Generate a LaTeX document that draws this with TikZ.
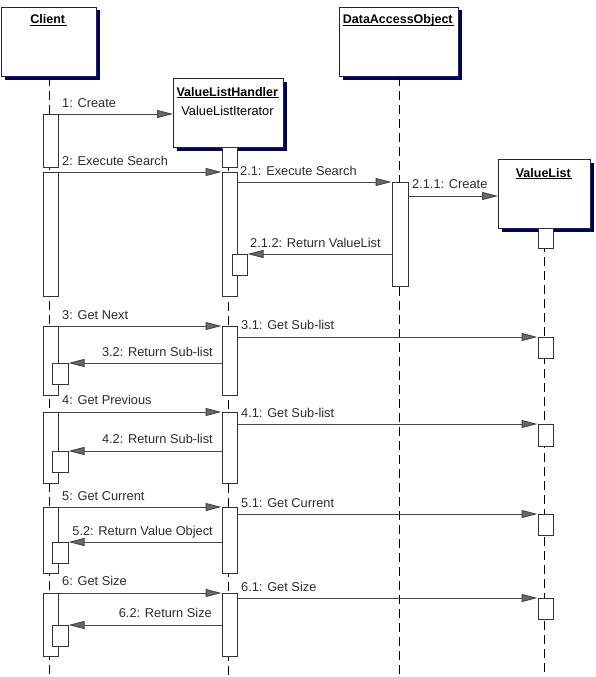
\documentclass[tikz,border=0pt]{standalone}
\usepackage{fontspec}
\setmainfont{Liberation Sans}
\usetikzlibrary{arrows.meta,shadows}
\definecolor{shadowblue}{RGB}{0,0,100}
\definecolor{linegray}{RGB}{70,70,70}
\definecolor{tipgray}{RGB}{105,105,105}
\definecolor{txtgray}{RGB}{45,45,45}
\newcommand{\ultitle}[1]{\underline{\smash{#1}\kern1.5pt}}
\begin{document}
\begin{tikzpicture}[x=1pt,y=-1pt,
  every node/.style={font=\fontsize{12.8}{15}\selectfont},
  header/.style={draw=black!85, fill=white, line width=1pt, inner sep=0pt, anchor=north west,
    drop shadow={shadow xshift=3pt, shadow yshift=-3pt, fill=shadowblue, opacity=1}},
  act/.style={draw=black!80, fill=white, line width=1pt, inner sep=0pt, minimum width=15pt, anchor=north},
  selfbox/.style={act, minimum width=16pt, minimum height=21pt},
  title/.style={font=\fontsize{12.5}{15}\selectfont\bfseries, text=black, inner sep=0pt, anchor=base},
  lbl/.style={text=txtgray, inner sep=0pt, anchor=base west},
  lblr/.style={text=txtgray, inner sep=0pt, anchor=base east},
  life/.style={draw=black, line width=1pt, dash pattern=on 9pt off 5pt},
  msg/.style={draw=linegray, line width=1pt, -{Triangle[length=16pt,width=8pt,fill=tipgray]}},
]
\fill[white] (0,0) rectangle (595,677);
\useasboundingbox (0,0) rectangle (595,677);
\coordinate (bottom) at (0,677);

% headers
\node[header, minimum width=95pt, minimum height=69pt] (client) at (1,7) {};
\node[header, minimum width=110pt, minimum height=69pt] (vlh) at (173,78) {};
\node[header, minimum width=119pt, minimum height=69pt] (dao) at (339,7) {};
\node[header, minimum width=92pt, minimum height=69pt] (vl) at (498,159) {};

\node[title] (tclient) at (48.5,24) {\ultitle{Client}};
\node[title] (tvlh) at (228,96) {\ultitle{ValueListHandler}};
\node[text=black, inner sep=0pt, anchor=base] (tvli) at (227.5,115) {ValueListIterator};
\node[title] (tdao) at (398.5,24) {\ultitle{DataAccessObject}};
\node[title] (tvl) at (544,177) {\ultitle{ValueList}};

% lifelines
\draw[life] (client.south) -- (client.south |- bottom);
\draw[life] (vlh.south) -- (vlh.south |- bottom);
\draw[life] (dao.south) -- (dao.south |- bottom);
\draw[life] (vl.south) -- (vl.south |- bottom);

% client activations
\node[act, minimum height=53pt] (ca1) at (50.5,114) {};
\node[act, minimum height=124pt] (ca2) at (50.5,172) {};
\node[act, minimum height=69pt] (ca3) at (50.5,326) {};
\node[act, minimum height=71pt] (ca4) at (50.5,412) {};
\node[act, minimum height=66pt] (ca5) at (50.5,507) {};
\node[act, minimum height=63pt] (ca6) at (50.5,593) {};
\node[selfbox] (cs3) at (60,363) {};
\node[selfbox] (cs4) at (60,451) {};
\node[selfbox] (cs5) at (60,542) {};
\node[selfbox] (cs6) at (60,625) {};

% value list handler activations
\node[act, minimum height=20pt] (va0) at (229.5,147) {};
\node[act, minimum height=124pt] (va2) at (229.5,172) {};
\node[act, minimum height=69pt] (va3) at (229.5,326) {};
\node[act, minimum height=71pt] (va4) at (229.5,412) {};
\node[act, minimum height=66pt] (va5) at (229.5,507) {};
\node[act, minimum height=63pt] (va6) at (229.5,593) {};
\node[selfbox, minimum width=15pt] (vs2) at (239.5,254) {};

% dao activation
\node[act, minimum width=16pt, minimum height=104pt] (da) at (400,182) {};

% value list activations
\node[act, minimum height=20pt] (vl0) at (545.5,228) {};
\node[act, minimum height=21pt] (vl3) at (545.5,337) {};
\node[act, minimum height=22pt] (vl4) at (545.5,424) {};
\node[act, minimum height=21pt] (vl5) at (545.5,514) {};
\node[act, minimum height=21pt] (vl6) at (545.5,598) {};

% messages
\draw[msg] (ca1.north east) -- (ca1.north east -| vlh.west);
\draw[msg] (ca2.north east) -- (va2.north west);
\draw[msg] (da.north west -| va2.east) -- (da.north west);
\draw[msg] ([yshift=-14pt]da.north east) coordinate (s211) -- (s211 -| vl.west);
\draw[msg] (vs2.north east -| da.west) -- (vs2.north east);

\draw[msg] (ca3.north east) -- (va3.north west);
\draw[msg] (vl3.north west -| va3.east) -- (vl3.north west);
\draw[msg] (cs3.north east -| va3.west) -- (cs3.north east);

\draw[msg] (ca4.north east) -- (va4.north west);
\draw[msg] (vl4.north west -| va4.east) -- (vl4.north west);
\draw[msg] (cs4.north east -| va4.west) -- (cs4.north east);

\draw[msg] (ca5.north east) -- (va5.north west);
\draw[msg] (vl5.north west -| va5.east) -- (vl5.north west);
\draw[msg] (cs5.north east -| va5.west) -- (cs5.north east);

\draw[msg] (ca6.north east) -- (va6.north west);
\draw[msg] (vl6.north west -| va6.east) -- (vl6.north west);
\draw[msg] (cs6.north east -| va6.west) -- (cs6.north east);

% labels
\node[lbl] (l1) at (62,107.5) {1: Create};
\node[lbl] (l2) at (62,165.5) {2: Execute Search};
\node[lbl] (l21) at (240,175.5) {2.1: Execute Search};
\node[lbl] (l211) at (412,188.5) {2.1.1: Create};
\node[lbl] (l212) at (250,247.5) {2.1.2: Return ValueList};
\node[lbl] (l3) at (62,319.5) {3: Get Next};
\node[lbl] (l31) at (241,329.5) {3.1: Get Sub-list};
\node[lblr] (l32) at (213,356.5) {3.2: Return Sub-list};
\node[lbl] (l4) at (62,404.5) {4: Get Previous};
\node[lbl] (l41) at (241,417.5) {4.1: Get Sub-list};
\node[lblr] (l42) at (213,443.5) {4.2: Return Sub-list};
\node[lbl] (l5) at (62,500.5) {5: Get Current};
\node[lbl] (l51) at (241,507.5) {5.1: Get Current};
\node[lblr] (l52) at (213,535.5) {5.2: Return Value Object};
\node[lbl] (l6) at (62,585.5) {6: Get Size};
\node[lbl] (l61) at (241,591.5) {6.1: Get Size};
\node[lblr] (l62) at (212,617.5) {6.2: Return Size};
\end{tikzpicture}
\end{document}
